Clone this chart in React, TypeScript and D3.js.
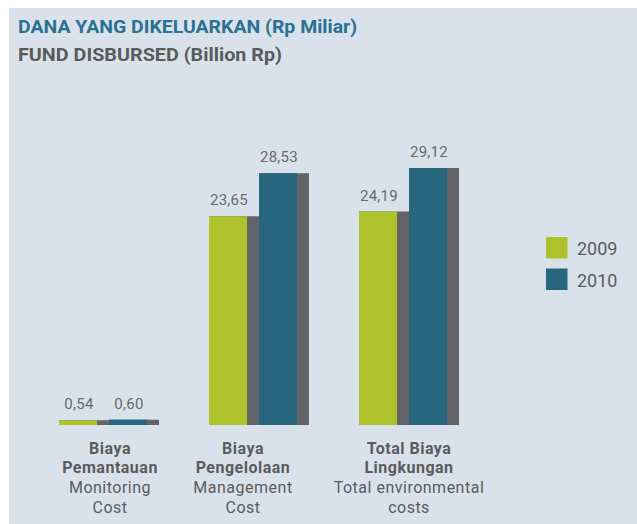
import React from "react";
import * as d3 from "d3";

const categories = ["monitoring", "management", "total"];
const catBold = [["Biaya", "Pemantauan"], ["Biaya", "Pengelolaan"], ["Total Biaya", "Lingkungan"]];
const catRegular = [["Monitoring", "Cost"], ["Management", "Cost"], ["Total environmental", "costs"]];
const seriesNames = ["2009", "2010"];
const values2009 = [0.54, 23.65, 24.19];
const values2010 = [0.6, 28.53, 29.12];
const labelShift = [1, -16, 0];

const W = 637;
const H = 524;
const colors = ["#adc22b", "#28667e"];
const shadow = "#636468";
const textGray = "#5b5b5d";
const font = "Roboto, 'DejaVu Sans', sans-serif";

export default function App() {
  const x = d3.scaleBand<string>().domain(categories).range([34, 484]).paddingInner(1 / 3).paddingOuter(1 / 6);
  const inner = d3.scaleBand<string>().domain(seriesNames).range([0, x.bandwidth()]);
  const y = d3.scaleLinear().domain([0, 29.12]).range([425, 168]);
  const barW = 38;
  const fmt = (v: number) => d3.format(".2f")(v).replace(".", ",");
  const data = [values2009, values2010];

  return (
    <svg width={W} height={H} style={{ position: "absolute", left: 0, top: 0 }}>
      <rect x={0} y={0} width={W} height={H} fill="#ffffff" />
      <rect x={9} y={8} width={W - 9} height={H - 8} fill="#d9e2ea" />
      <text x={18} y={33} fontFamily={font} fontWeight={700} fontSize={17.5} fill="#2b7191" textLength={339} lengthAdjust="spacingAndGlyphs">
        DANA YANG DIKELUARKAN (Rp Miliar)
      </text>
      <text x={18} y={61} fontFamily={font} fontWeight={700} fontSize={17.5} fill="#5a5a5a" textLength={264} lengthAdjust="spacingAndGlyphs">
        FUND DISBURSED (Billion Rp)
      </text>
      {seriesNames.map((s, si) => (
        <g key={s}>
          {categories.map((c, ci) => {
            const v = data[si][ci];
            const x0 = (x(c) as number) + (inner(s) as number);
            const top = y(v);
            const h = y(0) - top;
            return (
              <g key={c}>
                <rect x={x0} y={top} width={inner.bandwidth()} height={h} fill={shadow} />
                <rect x={x0} y={top} width={barW} height={h} fill={colors[si]} />
                <text x={x0 + barW / 2 + 1} y={top - 11} textAnchor="middle" fontFamily={font} fontSize={15} letterSpacing={0.3} fill="#6a6a6c">
                  {fmt(v)}
                </text>
              </g>
            );
          })}
        </g>
      ))}
      {categories.map((c, ci) => {
        const cx = (x(c) as number) + x.bandwidth() / 2 + labelShift[ci];
        const lines = [...catBold[ci].map((t) => ({ t, b: true })), ...catRegular[ci].map((t) => ({ t, b: false }))];
        return (
          <g key={c}>
            {lines.map((l, li) => (
              <text key={li} x={cx} y={453.5 + li * 19.7} textAnchor="middle" fontFamily={font} fontSize={16} letterSpacing={0.5} fontWeight={l.b ? 700 : 400} fill={textGray}>
                {l.t}
              </text>
            ))}
          </g>
        );
      })}
      {seriesNames.map((s, si) => (
        <g key={s} transform={`translate(546,${237 + si * 31.5})`}>
          <rect x={0} y={0} width={21.5} height={21.5} fill={colors[si]} />
          <text x={31} y={18} fontFamily={font} fontSize={18} fill={textGray}>
            {s}
          </text>
        </g>
      ))}
    </svg>
  );
}
